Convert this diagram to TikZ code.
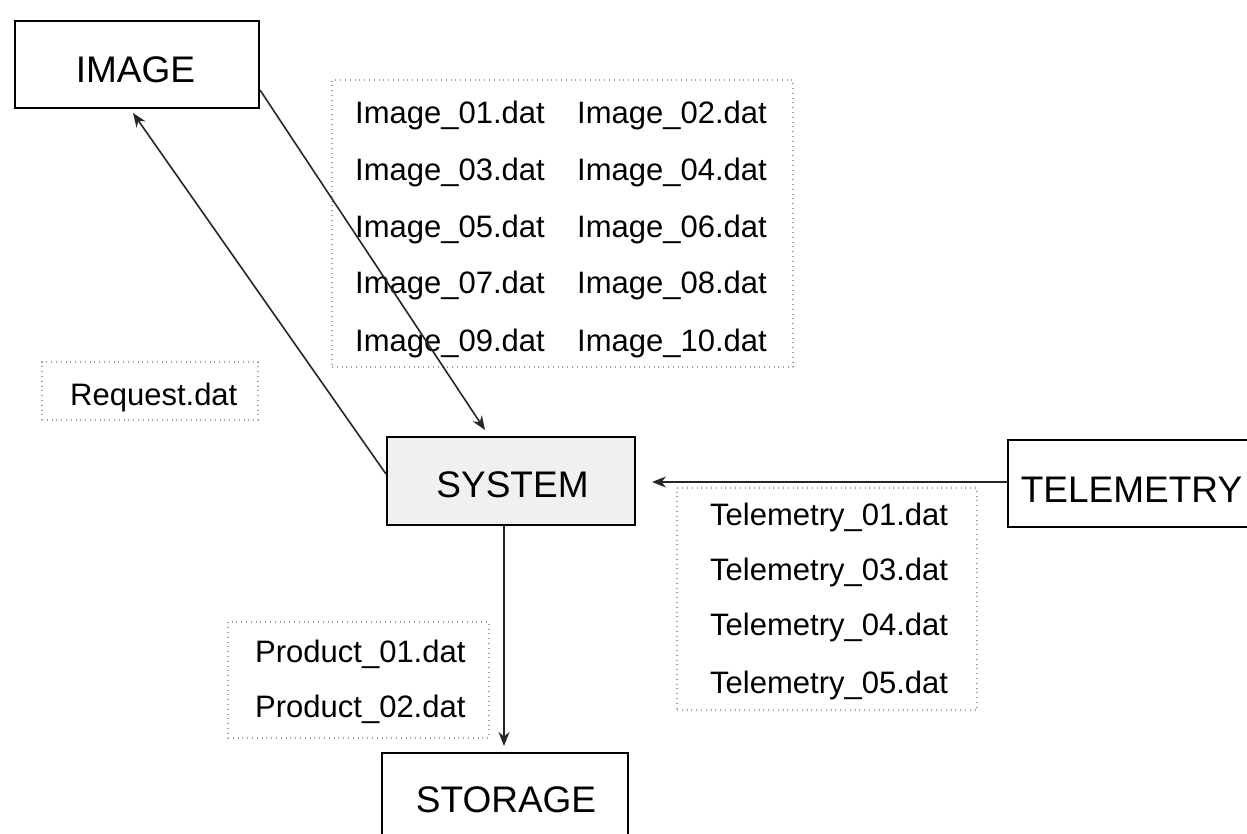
\documentclass[tikz,border=0pt]{standalone}
\usepackage{fontspec}
\setmainfont{Liberation Sans}
\usetikzlibrary{arrows.meta}
\begin{document}
\begin{tikzpicture}[x=1pt,y=-1pt,
  box/.style={draw=black,line width=2.4pt,inner sep=0pt},
  dotbox/.style={draw=gray!75,line width=1.3pt,dash pattern=on 0.8pt off 4pt,inner sep=0pt},
  big/.style={font=\fontsize{37}{40}\selectfont,inner sep=0pt,anchor=base},
  small/.style={font=\fontsize{31}{34}\selectfont,inner sep=0pt,anchor=base west},
  conn/.style={draw=black!85,line width=1.6pt},
  arr/.style={conn,-{Stealth[length=14pt,width=11pt]}}]
\useasboundingbox (0,0) rectangle (1247,834);

% boxes
\node[box,minimum width=244pt,minimum height=87pt] (img) at (137,64.5) {};
\node[big] (imgl) at (135.5,83) {IMAGE};

\node[dotbox,minimum width=461pt,minimum height=287pt] (ilist) at (562.5,223.5) {};
\node[small] (i01) at (355,124) {Image\_01.dat};
\node[small] (i02) at (577,124) {Image\_02.dat};
\node[small] (i03) at (355,181) {Image\_03.dat};
\node[small] (i04) at (577,181) {Image\_04.dat};
\node[small] (i05) at (355,238) {Image\_05.dat};
\node[small] (i06) at (577,238) {Image\_06.dat};
\node[small] (i07) at (355,294) {Image\_07.dat};
\node[small] (i08) at (577,294) {Image\_08.dat};
\node[small] (i09) at (355,351) {Image\_09.dat};
\node[small] (i10) at (577,351) {Image\_10.dat};

\node[dotbox,minimum width=216pt,minimum height=58pt] (req) at (150,391) {};
\node[small] (reql) at (70,405) {Request.dat};

\node[box,fill=gray!12,minimum width=248pt,minimum height=88pt] (sys) at (511,481) {};
\node[big] (sysl) at (512.5,497) {SYSTEM};

\node[minimum width=239pt,minimum height=87pt,inner sep=0pt] (tel) at (1127.5,483.5) {};
\draw[line width=2.4pt] (tel.north east) -- (tel.north west) -- (tel.south west) -- (tel.south east);
\node[big] (tell) at (1131.5,502) {TELEMETRY};

\node[dotbox,minimum width=300pt,minimum height=222pt] (tlist) at (827,599) {};
\node[small] (t01) at (710,525) {Telemetry\_01.dat};
\node[small] (t03) at (710,580) {Telemetry\_03.dat};
\node[small] (t04) at (710,635) {Telemetry\_04.dat};
\node[small] (t05) at (710,693) {Telemetry\_05.dat};

\node[dotbox,minimum width=261pt,minimum height=116pt] (plist) at (358.5,680) {};
\node[small] (p01) at (255,662) {Product\_01.dat};
\node[small] (p02) at (255,717) {Product\_02.dat};

\node[minimum width=246pt,minimum height=81pt,inner sep=0pt] (sto) at (505,793.5) {};
\draw[line width=2.4pt] (sto.south west) -- (sto.north west) -- (sto.north east) -- (sto.south east);
\node[big] (stol) at (506,812) {STORAGE};

% connectors
\coordinate (a1) at (260,90);
\coordinate (a1t) at (485,430);
\draw[arr] (a1) -- (a1t);

\coordinate (b1) at (386,474);
\coordinate (b1t) at (133,113);
\draw[arr] (b1) -- (b1t);

\coordinate (c1) at (1008,482);
\coordinate (c1t) at (652,482);
\draw[arr] (c1) -- (c1t);

\coordinate (d1) at (504,525);
\coordinate (d1t) at (504,746);
\draw[arr] (d1) -- (d1t);
\end{tikzpicture}
\end{document}
